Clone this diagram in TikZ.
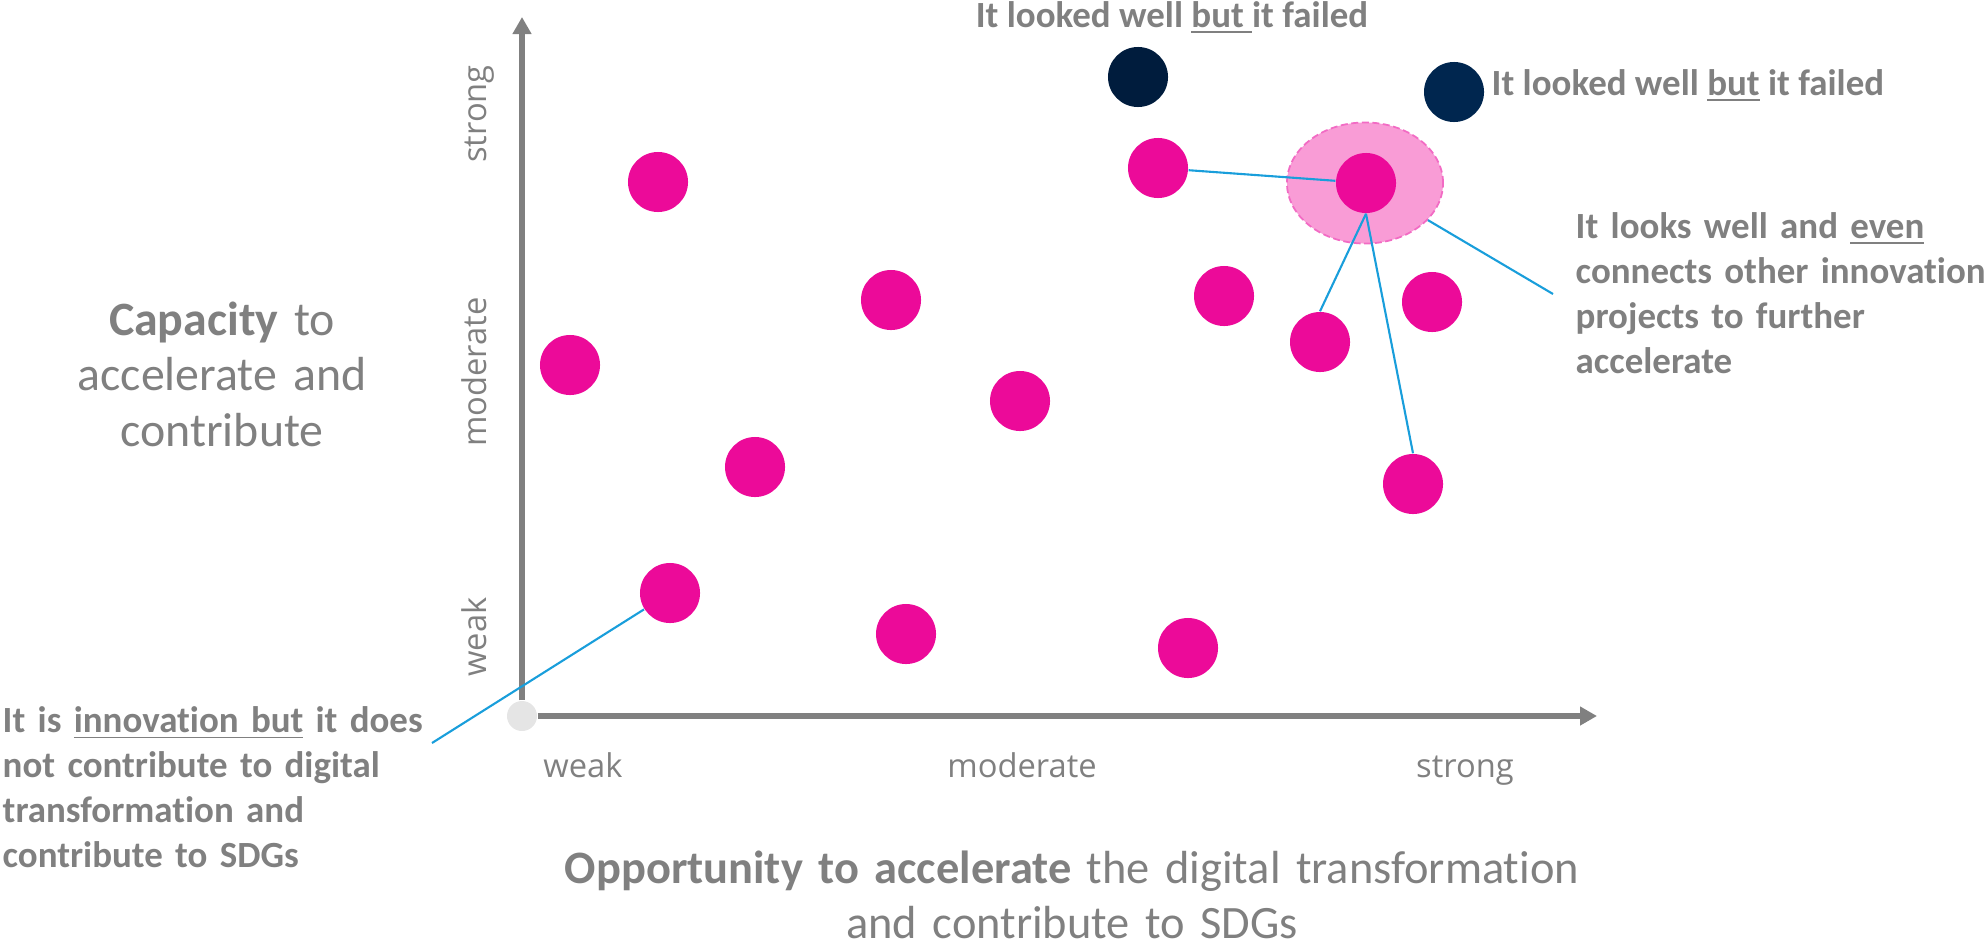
\documentclass[tikz,border=0pt]{standalone}
\usepackage{fontspec}
\setmainfont{Carlito}[Ligatures={NoCommon}]
\newfontfamily\tickfont{Open Sans}
\usepackage{tikz}
\usetikzlibrary{arrows.meta, positioning, shapes.geometric}
\definecolor{txtgray}{rgb}{0.5,0.5,0.5}
\definecolor{dotpink}{rgb}{0.925,0.04,0.6}
\definecolor{halopink}{rgb}{0.976,0.61,0.84}
\definecolor{haloline}{rgb}{0.95,0.42,0.77}
\definecolor{darknavy}{rgb}{0.0,0.11,0.24}
\definecolor{navy}{rgb}{0.0,0.15,0.31}
\definecolor{linkblue}{rgb}{0.1,0.62,0.86}
\definecolor{origingray}{rgb}{0.9,0.9,0.9}

\begin{document}
\begin{tikzpicture}[x=0.01cm, y=-0.01cm,
    dot/.style={circle, fill=dotpink, inner sep=0pt, minimum size=0.6cm},
    faildot/.style={circle, inner sep=0pt, minimum size=0.6cm},
    link/.style={draw=linkblue, line width=0.6pt},
    axis/.style={draw=txtgray, line width=1.7pt, -{Triangle[width=0.18cm,length=0.17cm]}},
    note/.style={txtgray, inner sep=0pt, font=\fontsize{10.5}{12.8}\selectfont\bfseries},
    tick/.style={txtgray, inner sep=0pt, font=\tickfont\fontsize{9.3}{11}\selectfont},
    title/.style={txtgray, inner sep=0pt, align=center}]
\useasboundingbox (0,0) rectangle (1985,945);

%--------------------------------------------------------------------
\node(origin) [circle, fill=origingray, inner sep=0pt, minimum size=0.3cm] at (522,716) {};
\coordinate (ytip) at (522,17);
\coordinate (xtip) at (1597,716);
\draw[axis] (origin.north) -- (ytip);
\draw[axis] (origin.east) -- (xtip);

\node(yweak) [tick, rotate=90, anchor=base] at (486,637) {weak};
\node(ymoderate) [tick, rotate=90, anchor=base] at (486,372) {moderate};
\node(ystrong) [tick, rotate=90, anchor=base] at (486,114) {strong};
\node(xweak) [tick, anchor=base] at (583,777) {weak};
\node(xmoderate) [tick, anchor=base] at (1022,777) {moderate};
\node(xstrong) [tick, anchor=base] at (1465,777) {strong};

\node(capacity) [title, anchor=base, text width=3.4cm, font=\fontsize{13.6}{15.8}\selectfont] at (222,335) {\textbf{Capacity} to\\
    accelerate and\\
    contribute};
\node(opportunity) [title, anchor=base, text width=11cm, font=\fontsize{13.2}{15.8}\selectfont] at (1072,883) {\textbf{Opportunity to accelerate} the digital transformation\\
    and contribute to SDGs};

%--------------------------------------------------------------------
\node(p1) [dot] at (658,182) {};
\node(p2) [dot] at (570,365) {};
\node(p3) [dot] at (891,300) {};
\node(p4) [dot] at (755,467) {};
\node(p5) [dot] at (1020,401) {};
\node(p6) [dot] at (670,593) {};
\node(p7) [dot] at (906,634) {};
\node(p8) [dot] at (1188,648) {};
\node(p9) [dot] at (1158,168) {};
\node(p10) [dot] at (1224,296) {};
\node(p11) [dot] at (1320,342) {};
\node(p12) [dot] at (1432,302) {};
\node(p13) [dot] at (1413,484) {};

\node(halo) [ellipse, fill=halopink, draw=haloline, dash pattern=on 2pt off 1pt, line width=0.5pt, inner sep=0pt, minimum width=1.56cm, minimum height=1.21cm] at (1365,183) {};
\node(hub) [dot] at (1366,183) {};

\node(fail1) [faildot, fill=darknavy] at (1138,77) {};
\node(fail2) [faildot, fill=navy] at (1454,92) {};

%--------------------------------------------------------------------
\draw[link] (p9) -- (hub);
\draw[link] (hub.south) -- (p11.north);
\draw[link] (hub.south) -- (p13.north);
\coordinate (hubtail) at (1553,294);
\draw[link] (halo) -- (hubtail);
\coordinate (innovtail) at (432,743);
\draw[link] (innovtail) -- (p6);

%--------------------------------------------------------------------
\node(failtop) [note, anchor=base] at (1172,27) {It looked well \underline{but\ }it failed};
\node(failright) [note, anchor=base west] at (1491,95) {It looked well \underline{but} it failed};
\node(hubnote) [note, anchor=base west, text width=4.1cm, align=left] at (1575,238) {It looks well and \underline{even}\\
    connects other innovation\\
    projects to further\\
    accelerate};
\node(innovnote) [note, anchor=base west, text width=4.3cm, align=left] at (2,732) {It is \underline{innovation but} it does\\
    not contribute to digital\\
    transformation and\\
    contribute to SDGs};

\end{tikzpicture}
\end{document}
